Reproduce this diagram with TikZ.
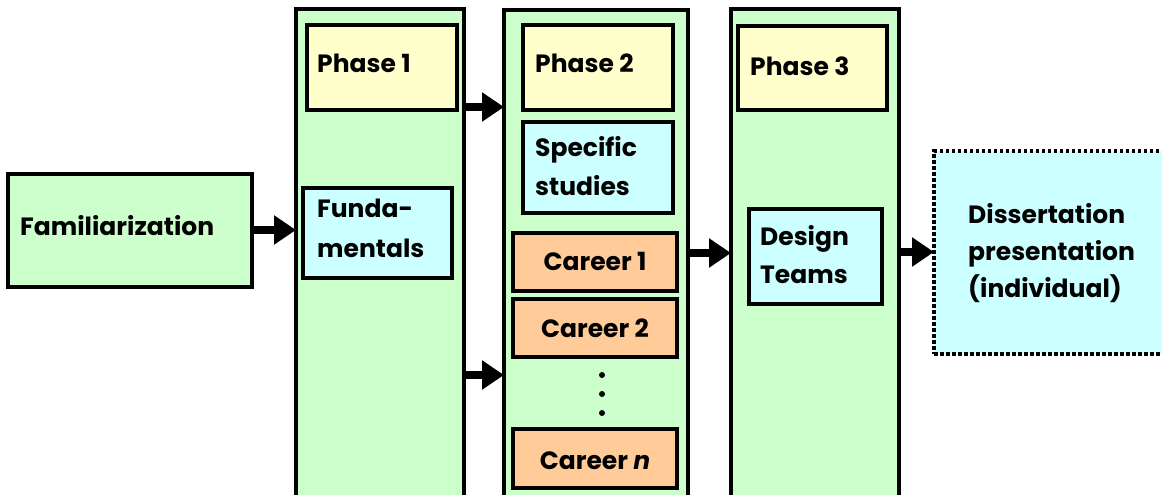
\documentclass[tikz,border=0pt]{standalone}
\usepackage{fontspec}
\setmainfont{Poppins}
\usetikzlibrary{arrows.meta,fit}
\definecolor{cgreen}{HTML}{CCFFCC}
\definecolor{cyel}{HTML}{FFFFCC}
\definecolor{ccyan}{HTML}{CCFFFF}
\definecolor{corange}{HTML}{FFCC99}
\tikzset{
  colbox/.style={draw=black, line width=3.5pt, fill=cgreen, inner sep=0pt, outer sep=0pt},
  ybox/.style={draw=black, line width=3.5pt, fill=cyel, inner sep=0pt, outer sep=0pt},
  cbox/.style={draw=black, line width=3.5pt, fill=ccyan, inner sep=0pt, outer sep=0pt},
  obox/.style={draw=black, line width=3.5pt, fill=corange, inner sep=0pt, outer sep=0pt},
  dbox/.style={draw=black, line width=3.5pt, dash pattern=on 3.5pt off 2.5pt, fill=ccyan, inner sep=0pt, outer sep=0pt},
  txt/.style={anchor=base west, inner sep=0pt, font=\fontsize{25}{30}\selectfont\bfseries},
  ctxt/.style={txt, anchor=base},
  dotn/.style={circle, fill=black, inner sep=0pt, minimum size=6pt},
  bigarrow/.style={line width=8pt, -{Triangle[length=22pt,width=28pt]}}
}
\begin{document}
\begin{tikzpicture}[x=1pt,y=-1pt]
\useasboundingbox (0,0) rectangle (1162,495);
% boxes
\node[colbox, fit={(8,174)(252,287)}] (fam) {};
\node[colbox, fit={(296,9)(464,520)}] (col1) {};
\node[colbox, fit={(504,10)(688,520)}] (col2) {};
\node[colbox, fit={(731,9)(899,520)}] (col3) {};
\node[ybox, fit={(307,25)(457,110)}] (ph1) {};
\node[cbox, fit={(303,188)(452,278)}] (fund) {};
\node[ybox, fit={(523,25)(673,110)}] (ph2) {};
\node[cbox, fit={(523,122)(673,213)}] (spec) {};
\node[obox, fit={(513,233)(677,291)}] (car1) {};
\node[obox, fit={(513,299)(677,357)}] (car2) {};
\node[obox, fit={(513,429)(677,488)}] (carn) {};
\node[ybox, fit={(738,26)(887,110)}] (ph3) {};
\node[cbox, fit={(749,209)(882,304)}] (design) {};
\node[dbox, fit={(934,151)(1185,354)}] (diss) {};
% dots
\node[dotn] (d1) at (602,375) {};
\node[dotn] (d2) at (602,394) {};
\node[dotn] (d3) at (602,413) {};
% texts
\node[txt] (tfam) at (20,235) {Familiarization};
\node[txt] (tph1) at (317,73) {Phase 1};
\node[txt] (tph2) at (535,73) {Phase 2};
\node[txt] (tph3) at (750,76) {Phase 3};
\node[txt] (tfund1) at (317,217) {Funda-};
\node[txt] (tfund2) at (317,257) {mentals};
\node[txt] (tspec1) at (535,156) {Specific};
\node[txt] (tspec2) at (535,195) {studies};
\node[ctxt] (tcar1) at (595,270) {Career 1};
\node[ctxt] (tcar2) at (595,337) {Career 2};
\node[ctxt] (tcarn) at (595,469) {Career \textit{n}};
\node[txt] (tdes1) at (760,245) {Design};
\node[txt] (tdes2) at (760,283) {Teams};
\node[txt] (tdis1) at (968,223) {Dissertation};
\node[txt] (tdis2) at (968,260) {presentation};
\node[txt] (tdis3) at (968,297) {(individual)};
% arrows
\draw[bigarrow] (fam.east |- 0,230) -- (col1.west |- 0,230);
\draw[bigarrow] (col1.east |- 0,107) -- (col2.west |- 0,107);
\draw[bigarrow] (col1.east |- 0,375) -- (col2.west |- 0,375);
\draw[bigarrow] (col2.east |- 0,253) -- (col3.west |- 0,253);
\draw[bigarrow] (col3.east |- 0,252) -- (diss.west |- 0,252);
\end{tikzpicture}
\end{document}
